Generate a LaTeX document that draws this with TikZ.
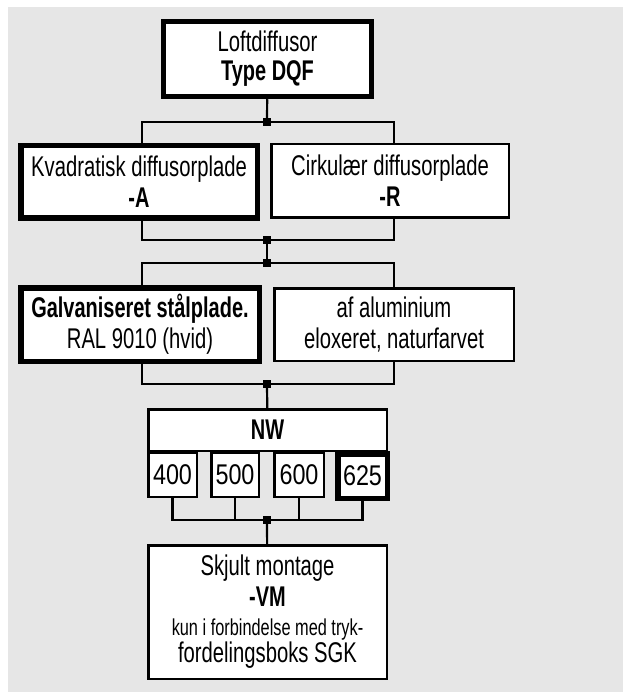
\documentclass[tikz,border=0pt]{standalone}
\usepackage{fontspec}
\setmainfont{Liberation Sans}[FakeStretch=0.71, BoldFeatures={FakeStretch=0.70}]
\newfontfamily\numfont{Liberation Sans}[FakeStretch=0.82]
\definecolor{bg}{RGB}{230,230,230}
\begin{document}
\begin{tikzpicture}[x=1pt,y=-1pt,
 box/.style={draw, fill=white, line width=2.5pt, inner sep=0pt, align=center, font=\fontsize{28.5}{31}\selectfont},
 tbox/.style={box, line width=5.5pt},
 numbox/.style={box, font=\numfont\fontsize{28.5}{31}\selectfont},
 conn/.style={line width=2.2pt},
 junc/.style={fill=black, inner sep=0pt, minimum size=8pt, rectangle}]
\fill[white] (0,0) rectangle (623,692);
\fill[bg] (8,7) rectangle (623,692);
\useasboundingbox (0,0) rectangle (623,692);
% boxes
\node[tbox, minimum width=208pt, minimum height=75pt] (top) at (267.5,59) {Loftdiffusor\\[-2pt]\textbf{Type DQF}};
\node[tbox, minimum width=236.5pt, minimum height=72.5pt] (A) at (139,182) {Kvadratisk diffusorplade\\\textbf{-A}};
\node[box, minimum width=237.5pt, minimum height=73.5pt] (R) at (390,181) {Cirkulær diffusorplade\\\textbf{-R}};
\node[tbox, minimum width=238.5pt, minimum height=73.5pt] (G) at (140,324.5) {\textbf{Galvaniseret stålplade.}\\RAL 9010 (hvid)};
\node[box, minimum width=239.5pt, minimum height=72.5pt] (Al) at (394,324.5) {af aluminium\\eloxeret, naturfarvet};
\node[box, minimum width=238.5pt, minimum height=41.5pt] (NW) at (267.5,430) {\textbf{NW}};
\node[numbox, minimum width=48.5pt, minimum height=44.5pt] (n400) at (172.5,474.5) {400};
\node[numbox, minimum width=47.5pt, minimum height=44.5pt] (n500) at (235,474.5) {500};
\node[numbox, minimum width=49.5pt, minimum height=44.5pt] (n600) at (299,474.5) {600};
\node[numbox, line width=5.5pt, minimum width=49.5pt, minimum height=44.5pt] (n625) at (362.5,476) {625};
\node[box, minimum width=238.5pt, minimum height=133.5pt] (B) at (267.5,612) {Skjult montage\\\textbf{-VM}\\[-2pt]{\fontsize{23}{30}\selectfont kun i forbindelse med tryk-}\\[-4pt]fordelingsboks SGK};
% junctions
\node[junc] (j1) at (267,122) {};
\node[junc] (j2) at (267,240) {};
\node[junc] (j3) at (267,263) {};
\node[junc] (j4) at (267,384) {};
\node[junc] (j5) at (267,520) {};
\coordinate (lx) at (142,0);
\coordinate (rx) at (394,0);
% connectors
\draw[conn] (top) -- (j1.center);
\draw[conn] (j1.center) -| (A.north -| lx);
\draw[conn] (j1.center) -| (R.north -| rx);
\draw[conn] (A.south -| lx) |- (j2.center);
\draw[conn] (R.south -| rx) |- (j2.center);
\draw[conn] (j2.center) -- (j3.center);
\draw[conn] (j3.center) -| (G.north -| lx);
\draw[conn] (j3.center) -| (Al.north -| rx);
\draw[conn] (G.south -| lx) |- (j4.center);
\draw[conn] (Al.south -| rx) |- (j4.center);
\draw[conn] (j4.center) -- (NW);
\draw[conn] (n400) |- (j5.center);
\draw[conn] (n500) |- (j5.center);
\draw[conn] (n600) |- (j5.center);
\draw[conn] (n625) |- (j5.center);
\draw[conn] (j5.center) -- (B);
\end{tikzpicture}
\end{document}
